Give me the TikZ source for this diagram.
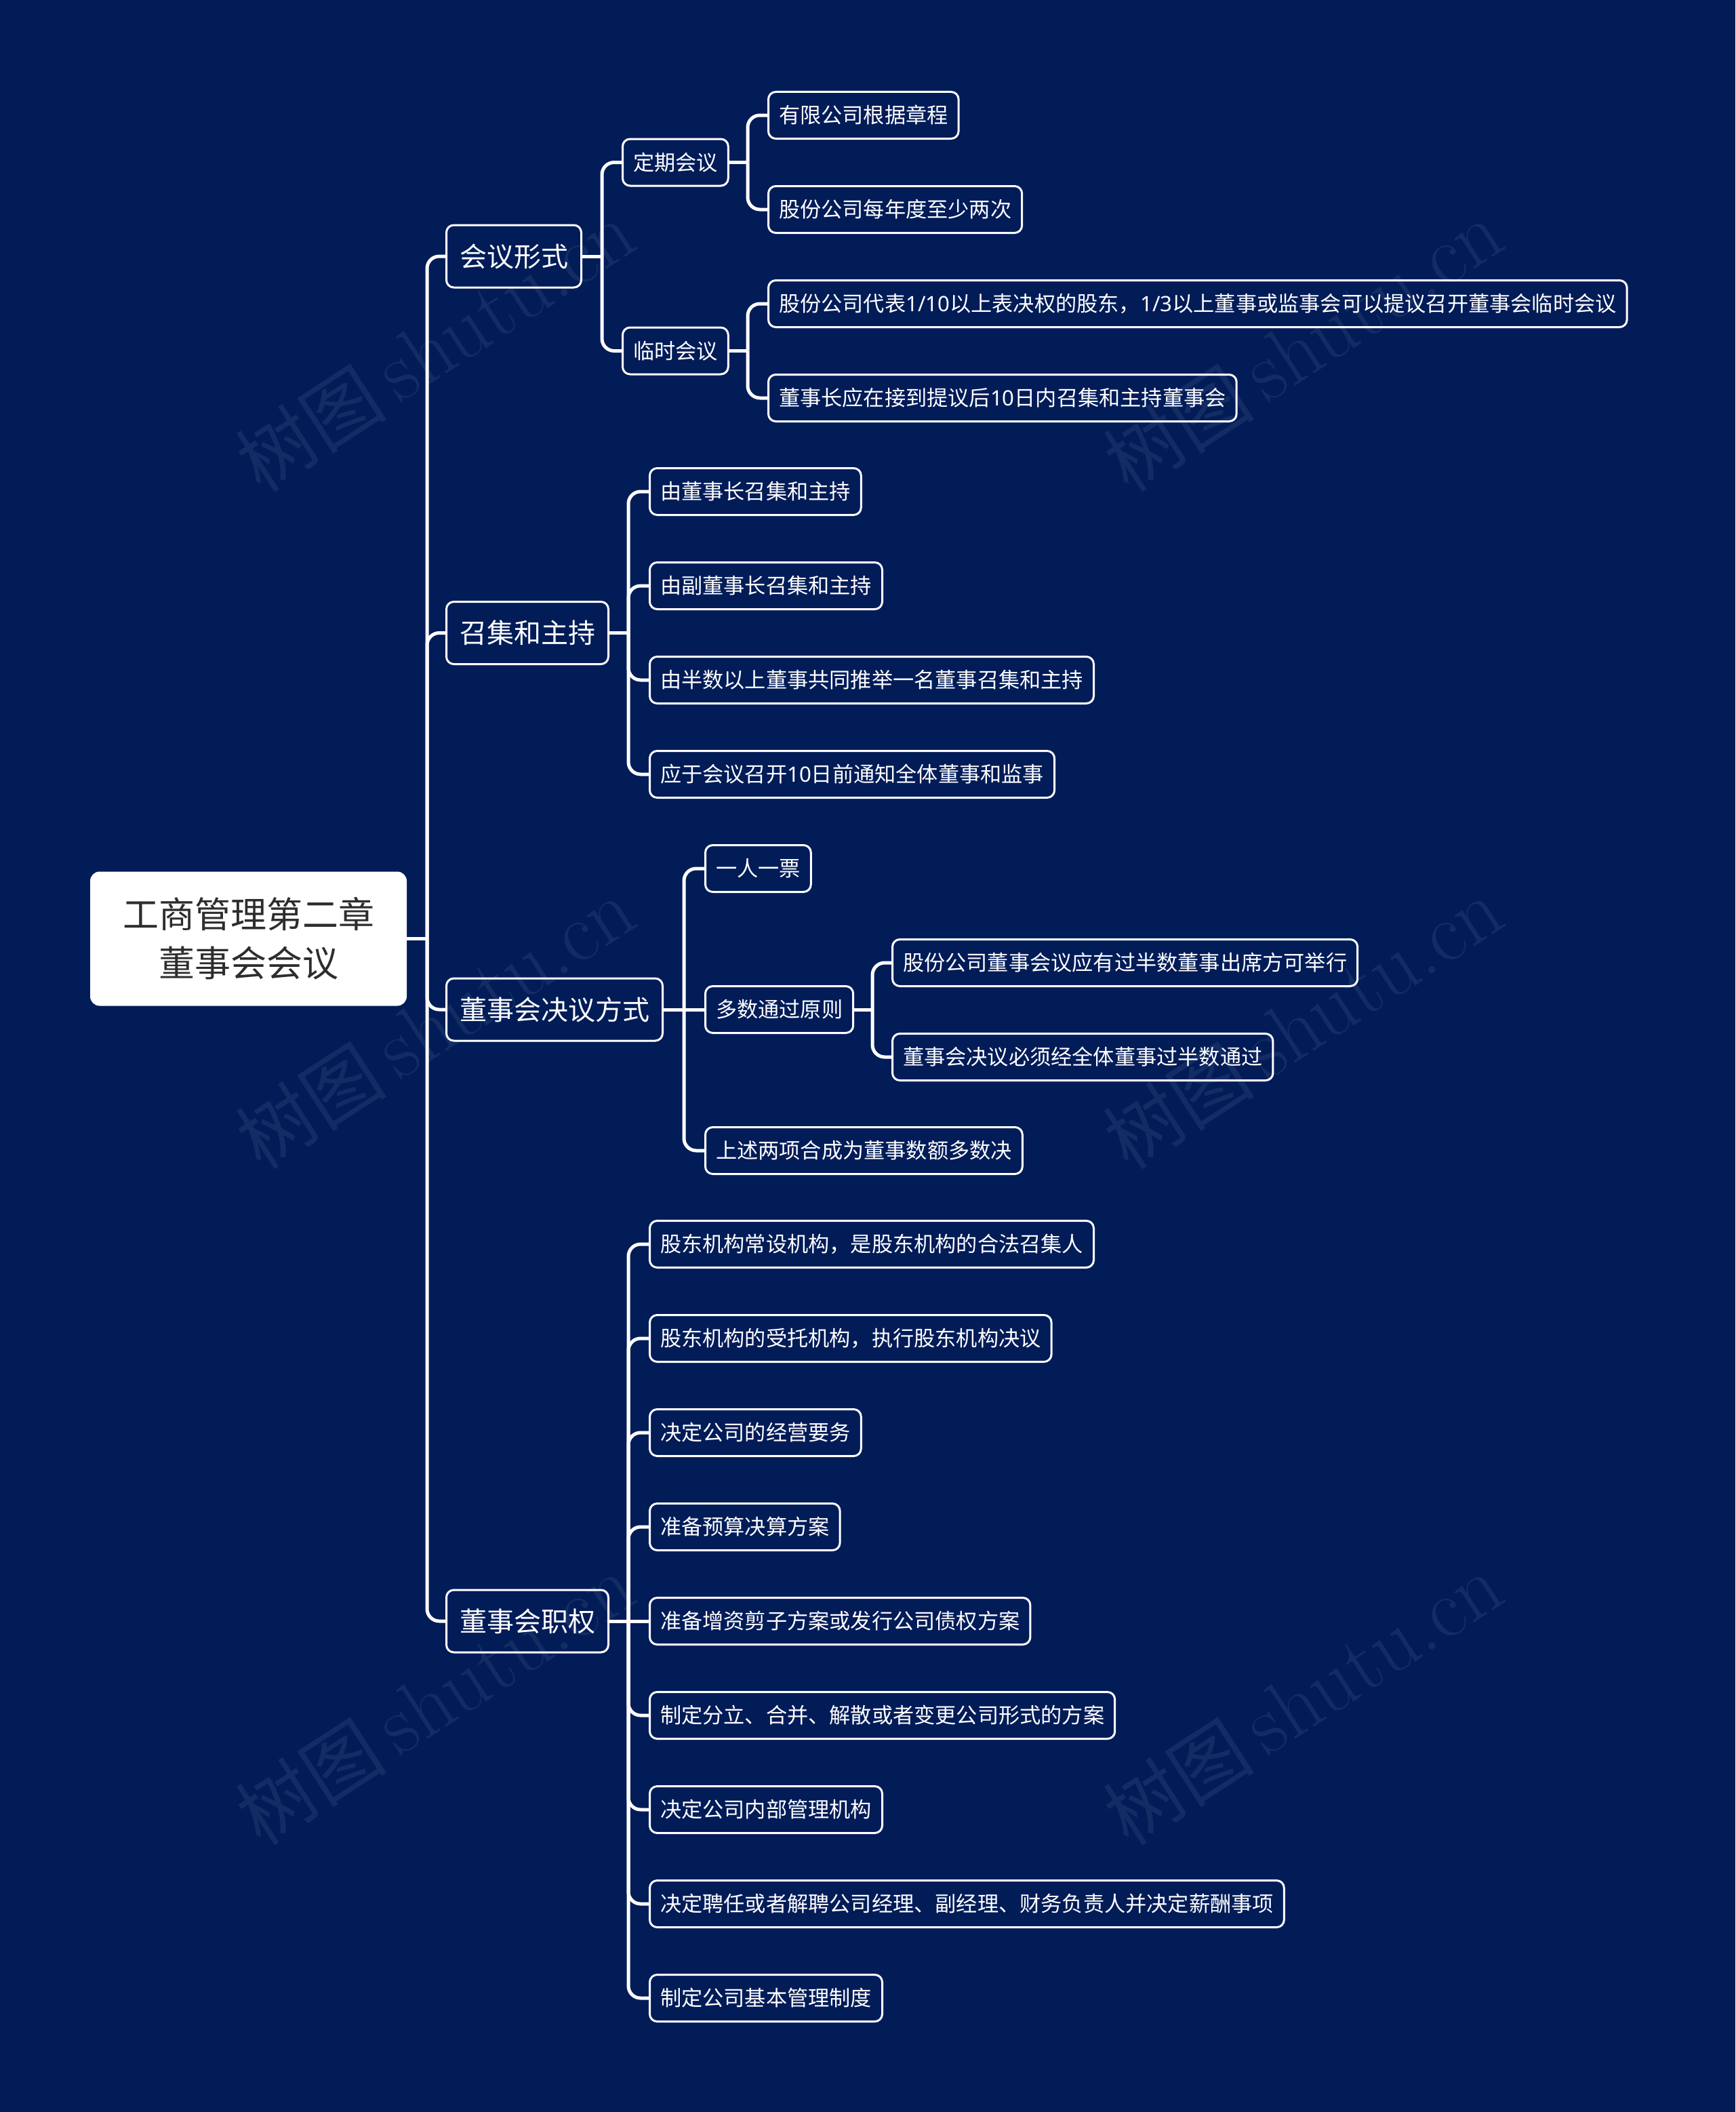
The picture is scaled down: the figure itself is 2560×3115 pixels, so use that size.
\documentclass[tikz,border=0pt]{standalone}
\usepackage{fontspec}
\newfontfamily\cjk{Noto Sans CJK SC}
\newfontfamily\lat{Noto Sans}
\definecolor{bg}{RGB}{2,28,88}
\definecolor{roottext}{RGB}{45,45,45}
\newcommand{\dg}[1]{{\lat #1}}
\begin{document}
\begin{tikzpicture}[x=1pt,y=-1pt,
  base/.style={draw=white, line width=3pt, fill=bg, text=white, rounded corners=11pt, anchor=west, inner ysep=0pt},
  leaf/.style={base, font=\cjk\fontsize{31.2}{31.2}\selectfont, inner xsep=15.5pt, minimum height=69pt, text height=27.4pt, text depth=3.8pt},
  lvone/.style={base, font=\cjk\fontsize{40}{40}\selectfont, inner xsep=19.5pt, minimum height=92pt, text height=35.2pt, text depth=4.8pt},
  rootbox/.style={fill=white, text=roottext, rounded corners=14pt, font=\cjk\fontsize{53}{72}\selectfont, align=center, minimum width=467pt, minimum height=198pt, anchor=center, inner sep=0pt},
  conn/.style={draw=white, line width=5pt, rounded corners=18pt},
  wm/.style={text=white, opacity=0.07, rotate=33, anchor=center, inner sep=0pt}
]
\fill[bg] (0,0) rectangle (2560,3115);
\useasboundingbox (0,0) rectangle (2560,3115);

% root
\node[rootbox] (root) at (366.5,1384.5) {工商管理第二章\\董事会会议};

% level 1
\node[lvone] (a) at (657,378) {会议形式};
\node[lvone] (b) at (657,933.5) {召集和主持};
\node[lvone] (c) at (657,1489) {董事会决议方式};
\node[lvone] (d) at (657,2391) {董事会职权};

% group a
\node[leaf] (a1) at (917,239.5) {定期会议};
\node[leaf] (a2) at (917,517.5) {临时会议};
\node[leaf] (a11) at (1132,170) {有限公司根据章程};
\node[leaf] (a12) at (1132,309) {股份公司每年度至少两次};
\node[leaf] (a21) at (1132,448) {股份公司代表\dg{1/10}以上表决权的股东，\dg{1/3}以上董事或监事会可以提议召开董事会临时会议};
\node[leaf] (a22) at (1132,587) {董事长应在接到提议后\dg{10}日内召集和主持董事会};

% group b
\node[leaf] (b1) at (957,725) {由董事长召集和主持};
\node[leaf] (b2) at (957,864) {由副董事长召集和主持};
\node[leaf] (b3) at (957,1003) {由半数以上董事共同推举一名董事召集和主持};
\node[leaf] (b4) at (957,1142) {应于会议召开\dg{10}日前通知全体董事和监事};

% group c
\node[leaf] (c1) at (1039,1281) {一人一票};
\node[leaf] (c2) at (1039,1489) {多数通过原则};
\node[leaf] (c3) at (1039,1697) {上述两项合成为董事数额多数决};
\node[leaf] (c21) at (1315,1420) {股份公司董事会议应有过半数董事出席方可举行};
\node[leaf] (c22) at (1315,1559) {董事会决议必须经全体董事过半数通过};

% group d
\node[leaf] (d1) at (957,1835) {股东机构常设机构，是股东机构的合法召集人};
\node[leaf] (d2) at (957,1974) {股东机构的受托机构，执行股东机构决议};
\node[leaf] (d3) at (957,2113) {决定公司的经营要务};
\node[leaf] (d4) at (957,2252) {准备预算决算方案};
\node[leaf] (d5) at (957,2391) {准备增资剪子方案或发行公司债权方案};
\node[leaf] (d6) at (957,2530) {制定分立、合并、解散或者变更公司形式的方案};
\node[leaf] (d7) at (957,2669) {决定公司内部管理机构};
\node[leaf] (d8) at (957,2808) {决定聘任或者解聘公司经理、副经理、财务负责人并决定薪酬事项};
\node[leaf] (d9) at (957,2947) {制定公司基本管理制度};

% junctions
\coordinate (j0) at (630,1384.5);
\coordinate (ja) at (888,378);
\coordinate (ja1) at (1103,239.5);
\coordinate (ja2) at (1103,517.5);
\coordinate (jb) at (927,933.5);
\coordinate (jc) at (1009,1489);
\coordinate (jc2) at (1287,1489);
\coordinate (jd) at (927,2391);

% connectors
\draw[conn] (root.east) -- (j0);
\foreach \n in {a,b,c,d} \draw[conn] (j0) |- (\n.west);

\draw[conn] (a.east) -- (ja);
\foreach \n in {a1,a2} \draw[conn] (ja) |- (\n.west);
\draw[conn] (a1.east) -- (ja1);
\foreach \n in {a11,a12} \draw[conn] (ja1) |- (\n.west);
\draw[conn] (a2.east) -- (ja2);
\foreach \n in {a21,a22} \draw[conn] (ja2) |- (\n.west);

\draw[conn] (b.east) -- (jb);
\foreach \n in {b1,b2,b3,b4} \draw[conn] (jb) |- (\n.west);

\draw[conn] (c.east) -- (jc);
\foreach \n in {c1,c3} \draw[conn] (jc) |- (\n.west);
\draw[conn] (jc) -- (c2.west);
\draw[conn] (c2.east) -- (jc2);
\foreach \n in {c21,c22} \draw[conn] (jc2) |- (\n.west);

\draw[conn] (d.east) -- (jd);
\foreach \n in {d1,d2,d3,d4,d6,d7,d8,d9} \draw[conn] (jd) |- (\n.west);
\draw[conn] (jd) -- (d5.west);

% watermarks
\foreach \px/\py [count=\i] in {642/511, 1922/511, 642/1510, 1922/1510, 642/2507, 1922/2507}
  \node[wm] (wm\i) at (\px,\py) {{\cjk\fontsize{112}{112}\selectfont 树图}\hspace{20pt}{\fontsize{125}{125}\selectfont shutu.cn}};
\end{tikzpicture}
\end{document}
